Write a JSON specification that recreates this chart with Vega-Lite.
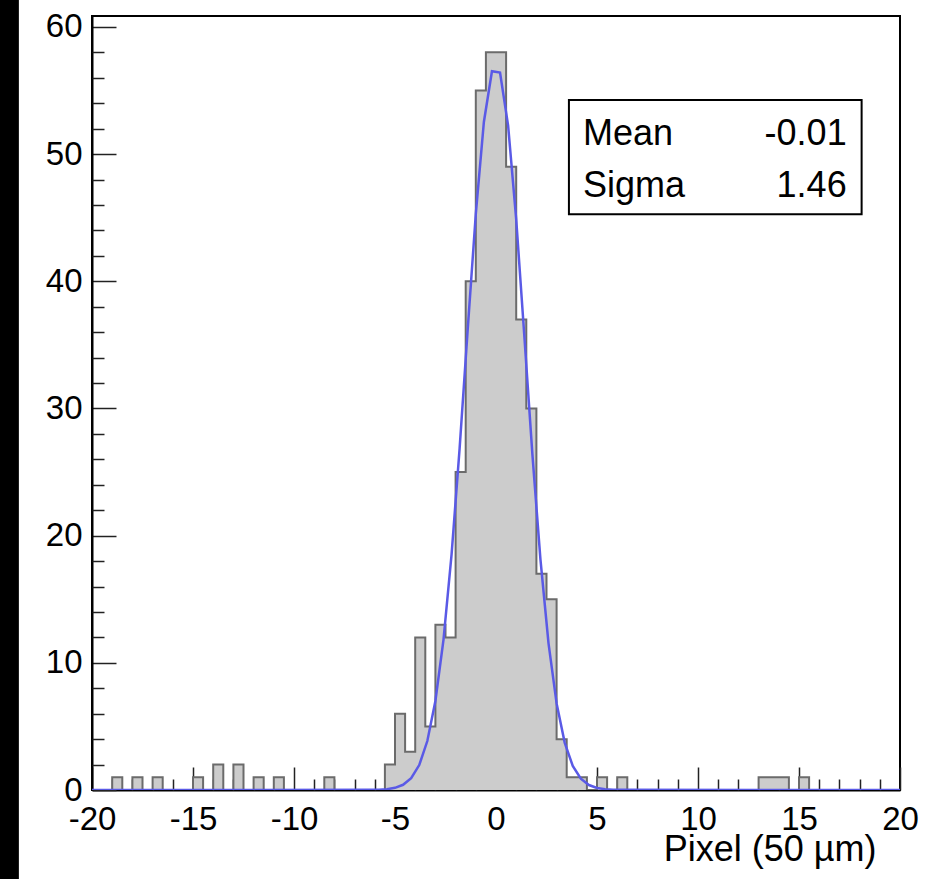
{
  "$schema": "https://vega.github.io/schema/vega-lite/v6.json",
  "width": 808,
  "height": 774,
  "autosize": {"type": "none"},
  "padding": {"left": 92, "top": 16, "right": 43, "bottom": 89},
  "background": "white",
  "config": {
    "view": {"stroke": "black", "strokeWidth": 2},
    "axis": {
      "grid": false,
      "domainColor": "black",
      "domainWidth": 2,
      "tickColor": "#222222",
      "tickWidth": 1.5,
      "labelFont": "Liberation Sans",
      "labelColor": "black",
      "titleFont": "Liberation Sans",
      "titleColor": "black",
      "titleFontWeight": "normal",
      "labelFlush": false,
      "labelOverlap": false
    }
  },
  "datasets": {
    "hist": [
      {"x": -20, "count": 0}, {"x": -19.5, "count": 0}, {"x": -19, "count": 1}, {"x": -18.5, "count": 0},
      {"x": -18, "count": 1}, {"x": -17.5, "count": 0}, {"x": -17, "count": 1}, {"x": -16.5, "count": 0},
      {"x": -16, "count": 0}, {"x": -15.5, "count": 0}, {"x": -15, "count": 1}, {"x": -14.5, "count": 0},
      {"x": -14, "count": 2}, {"x": -13.5, "count": 0}, {"x": -13, "count": 2}, {"x": -12.5, "count": 0},
      {"x": -12, "count": 1}, {"x": -11.5, "count": 0}, {"x": -11, "count": 1}, {"x": -10.5, "count": 0},
      {"x": -10, "count": 0}, {"x": -9.5, "count": 0}, {"x": -9, "count": 0}, {"x": -8.5, "count": 1},
      {"x": -8, "count": 0}, {"x": -7.5, "count": 0}, {"x": -7, "count": 0}, {"x": -6.5, "count": 0},
      {"x": -6, "count": 0}, {"x": -5.5, "count": 2}, {"x": -5, "count": 6}, {"x": -4.5, "count": 3},
      {"x": -4, "count": 12}, {"x": -3.5, "count": 5}, {"x": -3, "count": 13}, {"x": -2.5, "count": 12},
      {"x": -2, "count": 25}, {"x": -1.5, "count": 40}, {"x": -1, "count": 55}, {"x": -0.5, "count": 58},
      {"x": 0, "count": 58}, {"x": 0.5, "count": 49}, {"x": 1, "count": 37}, {"x": 1.5, "count": 30},
      {"x": 2, "count": 17}, {"x": 2.5, "count": 15}, {"x": 3, "count": 4}, {"x": 3.5, "count": 1},
      {"x": 4, "count": 1}, {"x": 4.5, "count": 0}, {"x": 5, "count": 1}, {"x": 5.5, "count": 0},
      {"x": 6, "count": 1}, {"x": 6.5, "count": 0}, {"x": 7, "count": 0}, {"x": 7.5, "count": 0},
      {"x": 8, "count": 0}, {"x": 8.5, "count": 0}, {"x": 9, "count": 0}, {"x": 9.5, "count": 0},
      {"x": 10, "count": 0}, {"x": 10.5, "count": 0}, {"x": 11, "count": 0}, {"x": 11.5, "count": 0},
      {"x": 12, "count": 0}, {"x": 12.5, "count": 0}, {"x": 13, "count": 1}, {"x": 13.5, "count": 1},
      {"x": 14, "count": 1}, {"x": 14.5, "count": 0}, {"x": 15, "count": 1}, {"x": 15.5, "count": 0},
      {"x": 16, "count": 0}, {"x": 16.5, "count": 0}, {"x": 17, "count": 0}, {"x": 17.5, "count": 0},
      {"x": 18, "count": 0}, {"x": 18.5, "count": 0}, {"x": 19, "count": 0}, {"x": 19.5, "count": 0},
      {"x": 20, "count": 0}
    ],
    "fit": [
      {"x": -20, "value": 0}, {"x": -6.2, "value": 0.01}, {"x": -5.8, "value": 0.02}, {"x": -5.4, "value": 0.06},
      {"x": -5.0, "value": 0.17}, {"x": -4.6, "value": 0.41}, {"x": -4.2, "value": 0.93}, {"x": -3.8, "value": 1.96},
      {"x": -3.4, "value": 3.85}, {"x": -3.0, "value": 7.0}, {"x": -2.6, "value": 11.81}, {"x": -2.2, "value": 18.51},
      {"x": -1.8, "value": 26.88}, {"x": -1.4, "value": 36.23}, {"x": -1.0, "value": 45.29}, {"x": -0.6, "value": 52.53},
      {"x": -0.2, "value": 56.52}, {"x": 0.2, "value": 56.41}, {"x": 0.6, "value": 52.24}, {"x": 1.0, "value": 44.87},
      {"x": 1.4, "value": 35.76}, {"x": 1.8, "value": 26.43}, {"x": 2.2, "value": 18.13}, {"x": 2.6, "value": 11.53},
      {"x": 3.0, "value": 6.81}, {"x": 3.4, "value": 3.73}, {"x": 3.8, "value": 1.89}, {"x": 4.2, "value": 0.89},
      {"x": 4.6, "value": 0.39}, {"x": 5.0, "value": 0.16}, {"x": 5.4, "value": 0.06}, {"x": 5.8, "value": 0.02},
      {"x": 6.2, "value": 0.01}, {"x": 20, "value": 0}
    ]
  },
  "layer": [
    {
      "data": {"name": "hist"},
      "mark": {"type": "area", "interpolate": "step-after", "color": "#cccccc", "clip": true},
      "encoding": {
        "x": {
          "field": "x", "type": "quantitative",
          "scale": {"domain": [-20, 20], "nice": false, "zero": false},
          "axis": {
            "orient": "bottom",
            "values": [-20, -15, -10, -5, 0, 5, 10, 15, 20],
            "labelExpr": "'' + datum.value",
            "tickSize": -23,
            "labelPadding": 36,
            "labelFontSize": 33,
            "labelAlign": "center",
            "title": "Pixel (50 µm)",
            "titleFontSize": 36,
            "titleAnchor": "end",
            "titleAlign": "right",
            "titleBaseline": "alphabetic",
            "titleX": 784,
            "titleY": 70
          }
        },
        "y": {
          "field": "count", "type": "quantitative",
          "scale": {"domain": [0, 60.86], "nice": false, "zero": true},
          "axis": {
            "orient": "left",
            "values": [0, 10, 20, 30, 40, 50, 60],
            "labelExpr": "'' + datum.value",
            "tickSize": -24,
            "labelPadding": 34,
            "labelFontSize": 33,
            "labelBaseline": "middle",
            "title": null
          }
        }
      }
    },
    {
      "data": {"name": "hist"},
      "mark": {"type": "line", "interpolate": "step-after", "color": "#6b6b6b", "strokeWidth": 2, "clip": true},
      "encoding": {
        "x": {
          "field": "x", "type": "quantitative",
          "axis": {
            "orient": "bottom",
            "values": [-19, -18, -17, -16, -14, -13, -12, -11, -9, -8, -7, -6, -4, -3, -2, -1, 1, 2, 3, 4, 6, 7, 8, 9, 11, 12, 13, 14, 16, 17, 18, 19],
            "tickSize": -11,
            "labels": false,
            "domain": false,
            "title": null
          }
        },
        "y": {
          "field": "count", "type": "quantitative",
          "axis": {
            "orient": "left",
            "values": [2, 4, 6, 8, 12, 14, 16, 18, 22, 24, 26, 28, 32, 34, 36, 38, 42, 44, 46, 48, 52, 54, 56, 58],
            "tickSize": -12,
            "labels": false,
            "domain": false,
            "title": null
          }
        }
      }
    },
    {
      "data": {"name": "fit"},
      "mark": {"type": "line", "color": "#5a5ae6", "strokeWidth": 2.5, "clip": true},
      "encoding": {
        "x": {"field": "x", "type": "quantitative", "axis": null},
        "y": {"field": "value", "type": "quantitative", "axis": null}
      }
    },
    {
      "data": {"values": [{}]},
      "mark": {"type": "rect", "fill": "white", "stroke": "black", "strokeWidth": 2},
      "encoding": {
        "x": {"datum": 3.61, "type": "quantitative", "axis": null},
        "x2": {"datum": 18.1},
        "y": {"datum": 54.25, "type": "quantitative", "axis": null},
        "y2": {"datum": 45.28}
      }
    },
    {
      "data": {"values": [{}]},
      "mark": {"type": "text", "align": "left", "baseline": "alphabetic", "font": "Liberation Sans", "fontSize": 36, "color": "black"},
      "encoding": {
        "x": {"datum": 4.31, "type": "quantitative", "axis": null},
        "y": {"datum": 50.71, "type": "quantitative", "axis": null},
        "text": {"value": "Mean"}
      }
    },
    {
      "data": {"values": [{}]},
      "mark": {"type": "text", "align": "right", "baseline": "alphabetic", "font": "Liberation Sans", "fontSize": 36, "color": "black"},
      "encoding": {
        "x": {"datum": 17.36, "type": "quantitative", "axis": null},
        "y": {"datum": 50.71, "type": "quantitative", "axis": null},
        "text": {"value": "-0.01"}
      }
    },
    {
      "data": {"values": [{}]},
      "mark": {"type": "text", "align": "left", "baseline": "alphabetic", "font": "Liberation Sans", "fontSize": 36, "color": "black"},
      "encoding": {
        "x": {"datum": 4.31, "type": "quantitative", "axis": null},
        "y": {"datum": 46.64, "type": "quantitative", "axis": null},
        "text": {"value": "Sigma"}
      }
    },
    {
      "data": {"values": [{}]},
      "mark": {"type": "text", "align": "right", "baseline": "alphabetic", "font": "Liberation Sans", "fontSize": 36, "color": "black"},
      "encoding": {
        "x": {"datum": 17.36, "type": "quantitative", "axis": null},
        "y": {"datum": 46.64, "type": "quantitative", "axis": null},
        "text": {"value": "1.46"}
      }
    },
    {
      "data": {"values": [{}]},
      "mark": {"type": "rect", "fill": "black", "clip": false},
      "encoding": {
        "x": {"datum": -24.8, "type": "quantitative", "axis": null},
        "x2": {"datum": -23.62},
        "y": {"datum": 63, "type": "quantitative", "axis": null},
        "y2": {"datum": -8}
      }
    }
  ],
  "resolve": {"axis": {"x": "independent", "y": "independent"}}
}
